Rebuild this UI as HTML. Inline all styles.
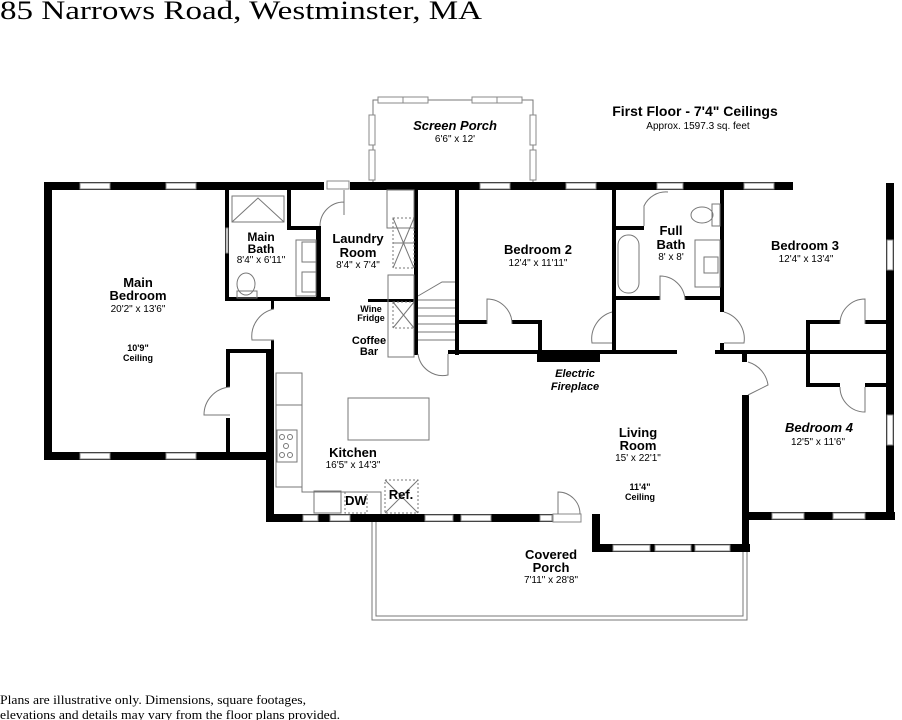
<!DOCTYPE html>
<html><head><meta charset="utf-8"><style>
html,body{margin:0;padding:0;background:#fff;}
svg{display:block;}
.s{font-family:"Liberation Sans",sans-serif;font-weight:bold;fill:#000;text-anchor:middle;}
.d{font-family:"Liberation Sans",sans-serif;fill:#000;text-anchor:middle;font-size:10px;}
.w{fill:#fff;stroke:#888;stroke-width:1;}
.t{fill:none;stroke:#777;stroke-width:1;}
</style></head><body>
<svg width="902" height="720" viewBox="0 0 902 720" xmlns="http://www.w3.org/2000/svg">
<text x="0" y="19" font-family="Liberation Serif,serif" font-size="26" textLength="482" lengthAdjust="spacingAndGlyphs">85 Narrows Road, Westminster, MA</text>
<text x="0" y="704" font-family="Liberation Serif,serif" font-size="13" textLength="306" lengthAdjust="spacingAndGlyphs">Plans are illustrative only. Dimensions, square footages,</text>
<text x="0" y="719" font-family="Liberation Serif,serif" font-size="13" textLength="340" lengthAdjust="spacingAndGlyphs">elevations and details may vary from the floor plans provided.</text>

<!-- screen porch -->
<path class="t" d="M373 182 V100 H533 V182" stroke-width="2"/>
<rect class="w" x="378" y="97" width="25" height="6"/><rect class="w" x="403" y="97" width="25" height="6"/>
<rect class="w" x="472" y="97" width="25" height="6"/><rect class="w" x="497" y="97" width="25" height="6"/>
<rect class="w" x="369" y="115" width="6" height="30"/><rect class="w" x="369" y="150" width="6" height="30"/>
<rect class="w" x="530" y="115" width="6" height="30"/><rect class="w" x="530" y="150" width="6" height="30"/>
<!-- covered porch -->
<path class="t" d="M372 522 V620 H747 V552" stroke-width="2"/>
<path class="t" d="M376 522 V616 H743 V552"/>

<g fill="#000">
<rect x="44" y="182" width="280" height="8"/>
<rect x="350" y="182" width="443" height="8"/>
<rect x="44" y="182" width="8" height="278"/>
<rect x="44" y="452" width="230" height="8"/>
<rect x="266" y="350" width="8" height="172"/>
<rect x="266" y="514" width="300" height="8"/>
<rect x="592" y="514" width="8" height="38"/>
<rect x="592" y="544" width="158" height="8"/>
<rect x="742" y="395" width="7" height="157"/>
<rect x="742" y="352" width="5" height="10"/>
<rect x="742" y="512" width="153" height="8"/>
<rect x="886" y="183" width="8" height="337"/>
<rect x="225" y="190" width="4" height="110"/>
<rect x="225" y="297" width="105" height="4"/>
<rect x="316" y="227" width="5" height="73"/>
<rect x="287" y="226" width="34" height="4"/>
<rect x="287" y="190" width="4" height="40"/>
<rect x="271" y="301" width="3" height="8"/>
<rect x="271" y="340" width="3" height="12"/>
<rect x="226" y="349" width="48" height="4"/>
<rect x="226" y="349" width="4" height="38"/>
<rect x="226" y="418" width="4" height="42"/>
<rect x="368" y="299" width="47" height="3"/>
<rect x="414" y="190" width="4" height="165"/>
<rect x="455" y="190" width="4" height="165"/>
<rect x="448" y="350" width="229" height="4"/>
<rect x="715" y="350" width="178" height="4"/>
<rect x="459" y="320" width="28" height="4"/><rect x="512" y="320" width="30" height="4"/>
<rect x="538" y="320" width="4" height="32"/>
<rect x="537" y="352" width="63" height="10"/>
<rect x="612" y="190" width="4" height="160"/>
<rect x="616" y="226" width="28" height="4"/>
<rect x="612" y="296" width="48" height="4"/>
<rect x="685" y="296" width="35" height="4"/>
<rect x="720" y="190" width="4" height="122"/>
<rect x="720" y="343" width="4" height="8"/>
<rect x="806" y="320" width="4" height="67"/>
<rect x="806" y="320" width="34" height="4"/><rect x="865" y="320" width="28" height="4"/>
<rect x="806" y="383" width="34" height="4"/><rect x="865" y="383" width="28" height="4"/>
</g>
<g>
<rect class="w" x="80" y="183" width="30" height="6"/><rect class="w" x="166" y="183" width="30" height="6"/>
<rect class="w" x="480" y="183" width="30" height="6"/><rect class="w" x="566" y="183" width="30" height="6"/>
<rect class="w" x="657" y="183" width="26" height="6"/><rect class="w" x="744" y="183" width="30" height="6"/>
<rect class="w" x="80" y="453" width="30" height="6"/><rect class="w" x="166" y="453" width="30" height="6"/>
<rect class="w" x="303" y="515" width="15" height="6"/><rect class="w" x="330" y="515" width="20" height="6"/>
<rect class="w" x="425" y="515" width="28" height="6"/><rect class="w" x="461" y="515" width="30" height="6"/>
<rect class="w" x="540" y="515" width="12" height="6"/>
<rect class="w" x="613" y="545" width="37" height="6"/><rect class="w" x="655" y="545" width="36" height="6"/><rect class="w" x="695" y="545" width="35" height="6"/>
<rect class="w" x="772" y="513" width="32" height="6"/><rect class="w" x="833" y="513" width="32" height="6"/>
<rect class="w" x="887" y="240" width="6" height="30"/><rect class="w" x="887" y="415" width="6" height="30"/>
<rect class="w" x="226" y="228" width="2" height="25"/>
</g>
<rect class="w" x="553" y="514" width="28" height="8" stroke="#444"/>
<path class="t" stroke="#444" d="M558 514 V492 A22 22 0 0 1 580 514"/>
<rect class="w" x="327" y="181" width="22" height="8" stroke="#444"/>
<path class="t" stroke="#444" d="M320 226 A24 24 0 0 1 344 202 V190 M344 190 V215"/>
<g class="t" stroke="#444">
<path d="M274 309 A28 28 0 0 0 252 340 L274 340"/>
<path d="M230 387 A28 28 0 0 0 204 415 H230"/>
<path d="M487 324 V299 A25 25 0 0 1 512 324"/>
<path d="M612 312 A28 28 0 0 0 592 343 H612"/>
<path d="M724 312 A28 28 0 0 1 744 343 H724"/>
<path d="M660 300 V276 A25 25 0 0 1 685 300"/>
<path d="M644 226 V206 A24 24 0 0 1 668 192"/>
<path d="M865 324 V299 A25 25 0 0 0 840 324"/>
<path d="M865 387 V412 A25 25 0 0 1 840 387"/>
<path d="M748 362 A28 28 0 0 1 768 385 L748 395"/>
<path d="M418 354 A25 25 0 0 0 448 375 V354"/>
<path d="M418 300 H455 M418 308 H455 M418 316 H455 M418 324 H455 M418 332 H455 M418 340 H455 M418 296 L442 282 H455"/>
<rect x="232" y="196" width="52" height="26"/>
<path d="M232 222 L258 198 L284 222"/>
<rect x="296" y="240" width="20" height="56"/>
<rect x="302" y="242" width="14" height="20"/><rect x="302" y="272" width="14" height="20"/>
<ellipse cx="246" cy="284" rx="9" ry="11"/>
<rect x="237" y="291" width="20" height="7"/>
<rect x="387" y="190" width="27" height="38"/>
<rect x="393" y="218" width="21" height="50" stroke-dasharray="2 2"/>
<path d="M393 218 L414 268 M414 218 L393 268 M393 243 H414"/>
<rect x="388" y="275" width="26" height="82"/>
<rect x="393" y="302" width="21" height="26" stroke-dasharray="2 2"/>
<path d="M393 302 L414 328 M414 302 L393 328"/>
<rect x="348" y="398" width="81" height="42"/>
<rect x="276" y="373" width="26" height="114"/>
<path d="M276 405 H302 M302 487 V492 H381 V514"/>
<rect x="277" y="430" width="20" height="32"/>
<circle cx="282" cy="437" r="2.5"/><circle cx="290" cy="437" r="2.5"/><circle cx="286" cy="446" r="2.5"/><circle cx="282" cy="455" r="2.5"/><circle cx="290" cy="455" r="2.5"/>
<rect x="314" y="491" width="27" height="22"/>
<rect x="345" y="492" width="22" height="21" stroke-dasharray="2 2"/>
<rect x="385" y="480" width="33" height="33" stroke-dasharray="2 2"/>
<path d="M385 480 L418 513 M418 480 L385 513"/>
<rect x="618" y="235" width="21" height="58" rx="10"/>
<rect x="695" y="240" width="25" height="47"/>
<rect x="704" y="257" width="14" height="16"/>
<ellipse cx="702" cy="215" rx="11" ry="8"/>
<rect x="712" y="204" width="8" height="22"/>
</g>

<text class="s" x="695" y="116" font-size="14">First Floor - 7'4" Ceilings</text>
<text class="d" x="698" y="129" font-size="9">Approx. 1597.3 sq. feet</text>
<text class="s" x="455" y="130" font-size="13" font-style="italic">Screen Porch</text>
<text class="d" x="455" y="142">6'6" x 12'</text>
<text class="s" x="138" y="287" font-size="13">Main</text>
<text class="s" x="138" y="300" font-size="13">Bedroom</text>
<text class="d" x="138" y="312">20'2" x 13'6"</text>
<text class="s" x="138" y="351" font-size="9">10'9"</text>
<text class="s" x="138" y="361" font-size="9">Ceiling</text>
<text class="s" x="261" y="241" font-size="12">Main</text>
<text class="s" x="261" y="253" font-size="12">Bath</text>
<text class="d" x="261" y="263" font-size="9">8'4" x 6'11"</text>
<text class="s" x="358" y="243" font-size="13">Laundry</text>
<text class="s" x="358" y="257" font-size="13">Room</text>
<text class="d" x="358" y="268">8'4" x 7'4"</text>
<text class="s" x="371" y="312" font-size="9">Wine</text>
<text class="s" x="371" y="321" font-size="9">Fridge</text>
<text class="s" x="369" y="344" font-size="11">Coffee</text>
<text class="s" x="369" y="355" font-size="11">Bar</text>
<text class="s" x="353" y="457" font-size="13">Kitchen</text>
<text class="d" x="353" y="468">16'5" x 14'3"</text>
<text class="s" x="356" y="505" font-size="13">DW</text>
<text class="s" x="401" y="499" font-size="13">Ref.</text>
<text class="s" x="538" y="254" font-size="13">Bedroom 2</text>
<text class="d" x="538" y="266">12'4" x 11'11"</text>
<text class="s" x="671" y="235" font-size="13">Full</text>
<text class="s" x="671" y="249" font-size="13">Bath</text>
<text class="d" x="671" y="260">8' x 8'</text>
<text class="s" x="805" y="250" font-size="13">Bedroom 3</text>
<text class="d" x="806" y="262">12'4" x 13'4"</text>
<text class="s" x="575" y="377" font-size="11" font-style="italic">Electric</text>
<text class="s" x="575" y="390" font-size="11" font-style="italic">Fireplace</text>
<text class="s" x="638" y="437" font-size="13">Living</text>
<text class="s" x="638" y="450" font-size="13">Room</text>
<text class="d" x="638" y="461">15' x 22'1"</text>
<text class="s" x="640" y="490" font-size="9">11'4"</text>
<text class="s" x="640" y="500" font-size="9">Ceiling</text>
<text class="s" x="819" y="432" font-size="13" font-style="italic">Bedroom 4</text>
<text class="d" x="818" y="445">12'5" x 11'6"</text>
<text class="s" x="551" y="559" font-size="13">Covered</text>
<text class="s" x="551" y="572" font-size="13">Porch</text>
<text class="d" x="551" y="583">7'11" x 28'8"</text>
</svg>
</body></html>
